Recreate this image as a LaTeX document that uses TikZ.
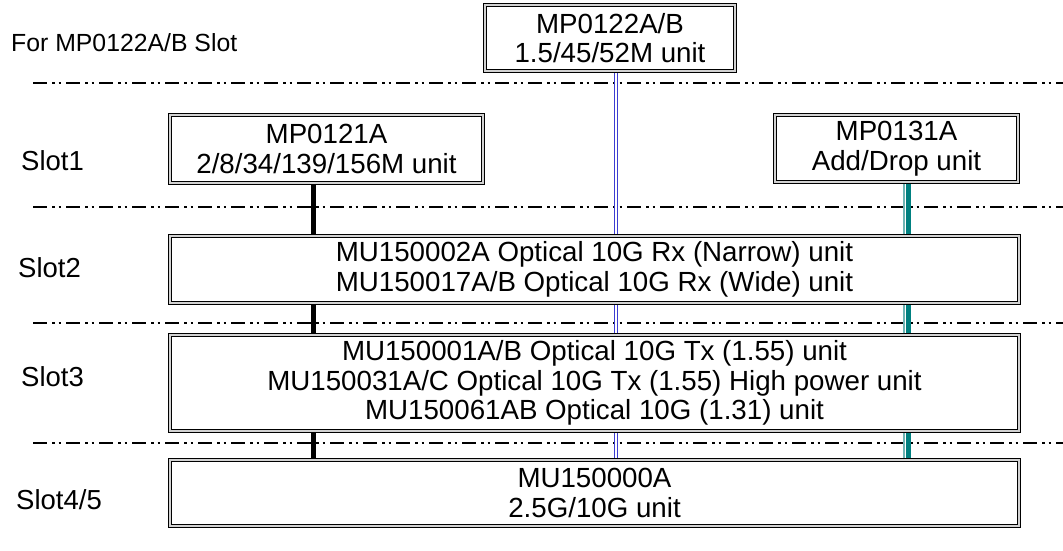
\documentclass[tikz,border=0pt]{standalone}
\usepackage{fontspec}
\setmainfont{Liberation Sans}
\usetikzlibrary{backgrounds}
\definecolor{bluel}{RGB}{60,60,210}
\definecolor{tealc}{RGB}{0,128,128}
\definecolor{teall}{RGB}{110,180,180}
\tikzset{
  unitbox/.style={draw=black, line width=1.1pt, double=gray!35, double distance=1.4pt,
    fill=white, align=center, inner sep=0pt,
    font=\fontsize{27.7}{29.5}\selectfont},
  slotlabel/.style={anchor=west, inner sep=0pt, font=\fontsize{27.5}{30}\selectfont},
  toplabel/.style={anchor=west, inner sep=0pt, font=\fontsize{24.8}{28}\selectfont},
  dashdotline/.style={line width=2pt, dash pattern=on 14pt off 5pt on 2.5pt off 4pt on 2.5pt off 5pt},
  blueconn/.style={draw=bluel, line width=1.1pt, double=white, double distance=1.4pt},
  blackconn/.style={draw=black, line width=5pt},
  tealthin/.style={draw=teall, line width=1.2pt},
  tealthick/.style={draw=tealc, line width=4.5pt}
}
\begin{document}
\begin{tikzpicture}[x=1pt,y=-1pt]
\useasboundingbox (0,0) rectangle (1063,551);

% boxes
\node[unitbox, minimum width=250pt, minimum height=66pt] (top) at (610,38) {MP0122A/B\\1.5/45/52M unit};
\node[unitbox, minimum width=313pt, minimum height=68pt] (mp121) at (326.5,149) {MP0121A\\2/8/34/139/156M unit};
\node[unitbox, minimum width=243pt, minimum height=67pt] (mp131) at (896.5,148.5) {MP0131A\\Add/Drop unit};
\node[unitbox, minimum width=849pt, minimum height=67pt] (s2) at (594.5,269.5) {MU150002A Optical 10G Rx (Narrow) unit\\MU150017A/B Optical 10G Rx (Wide) unit};
\node[unitbox, minimum width=849pt, minimum height=96pt] (s3) at (594.5,383) {MU150001A/B Optical 10G Tx (1.55) unit\\MU150031A/C Optical 10G Tx (1.55) High power unit\\MU150061AB Optical 10G (1.31) unit};
\node[unitbox, minimum width=849pt, minimum height=66pt] (s45) at (594.5,493) {MU150000A\\2.5G/10G unit};

% labels
\node[toplabel] (lfor) at (11,43) {For MP0122A/B Slot};
\node[slotlabel] (l1) at (21,161) {Slot1};
\node[slotlabel] (l2) at (18,268) {Slot2};
\node[slotlabel] (l3) at (21,377) {Slot3};
\node[slotlabel] (l45) at (16,500) {Slot4/5};

% separator lines
\coordinate (d0a) at (33,83);  \coordinate (d0b) at (1063,83);
\coordinate (d1a) at (33,207); \coordinate (d1b) at (1063,207);
\coordinate (d2a) at (33,323); \coordinate (d2b) at (1063,323);
\coordinate (d3a) at (33,443); \coordinate (d3b) at (1063,443);

\coordinate (bx) at (616,0);
\coordinate (kx) at (313,0);
\coordinate (tx) at (904,0);
\coordinate (ux) at (908.5,0);

\begin{scope}[on background layer]
  \draw[dashdotline] (d0a) -- (d0b);
  \draw[dashdotline] (d1a) -- (d1b);
  \draw[dashdotline] (d2a) -- (d2b);
  \draw[dashdotline] (d3a) -- (d3b);
  % blue connector
  \draw[blueconn] (top.south -| bx) -- (s2.north -| bx);
  \draw[blueconn] (s2.south -| bx) -- (s3.north -| bx);
  \draw[blueconn] (s3.south -| bx) -- (s45.north -| bx);
  % black connector
  \draw[blackconn] (mp121.south -| kx) -- (s2.north -| kx);
  \draw[blackconn] (s2.south -| kx) -- (s3.north -| kx);
  \draw[blackconn] (s3.south -| kx) -- (s45.north -| kx);
  % teal connector
  \draw[tealthin] (mp131.south -| tx) -- (s2.north -| tx);
  \draw[tealthin] (s2.south -| tx) -- (s3.north -| tx);
  \draw[tealthin] (s3.south -| tx) -- (s45.north -| tx);
  \draw[tealthick] (mp131.south -| ux) -- (s2.north -| ux);
  \draw[tealthick] (s2.south -| ux) -- (s3.north -| ux);
  \draw[tealthick] (s3.south -| ux) -- (s45.north -| ux);
\end{scope}
\end{tikzpicture}
\end{document}
